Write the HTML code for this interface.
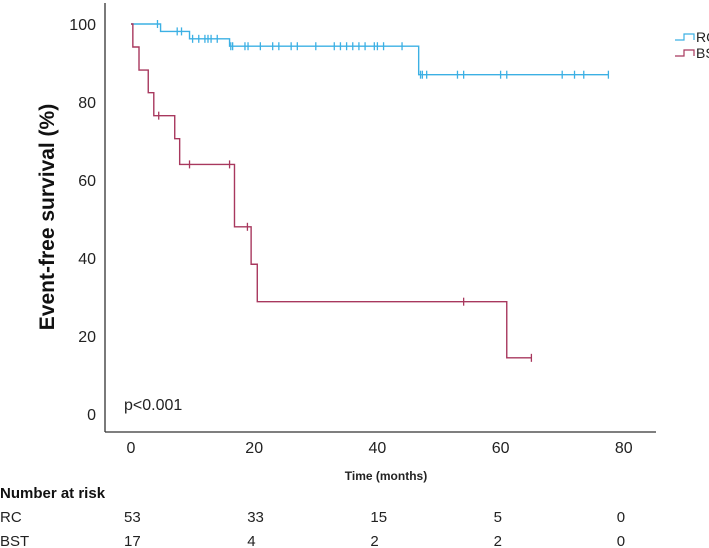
<!DOCTYPE html>
<html><head><meta charset="utf-8"><style>
body{margin:0;background:#fff;}
svg{display:block;font-family:"Liberation Sans",Arial,sans-serif;}
</style></head><body>
<svg id="c" width="709" height="548">
<g id="axes"></g><g id="marks"></g>
</svg>
<script>
const xTicks=[0,20,40,60,80];
const yTicks=[0,20,40,60,80,100];
const rcTimes=[0,4.8,9.5,16.0,46.7,77.5];
const rcSurv=[100,98.1,96.2,94.3,87.0,87.0];
const rcCensor=[4.3,7.5,8.2,10,11,12,12.5,13,14,16.2,16.5,18.5,19,21,23,24,26,27,30,33,34,35,36,37,38,39.5,40,41,44,47,47.3,48,53,54,60,61,70,72,73.5,77.5];
const bstTimes=[0,0.3,1.3,2.8,3.7,7.1,7.9,16.8,19.5,20.5,61,65];
const bstSurv=[100,94.1,88.2,82.4,76.5,70.6,64.0,48.0,38.4,28.8,14.4,14.4];
const bstCensor=[4.5,9.5,16,18.9,54,65];
const riskGroups=["RC","BST"];
const riskRC=[53,33,15,5,0];
const riskBST=[17,4,2,2,0];
const NS="http://www.w3.org/2000/svg";
const X=t=>131+t*6.16, Y=v=>24+(100-v)*3.9;
function mk(tag,at,parent,txt){const e=document.createElementNS(NS,tag);for(const k in at)e.setAttribute(k,at[k]);if(txt!==undefined)e.textContent=txt;parent.appendChild(e);return e;}
const ax=document.getElementById('axes'),mg=document.getElementById('marks');
let e;
e=mk('line',{x1:105,y1:3,x2:105,y2:432,stroke:'#333','stroke-width':1.3},ax);

e=mk('line',{x1:105,y1:432,x2:656,y2:432,stroke:'#333','stroke-width':1.3},ax);

yTicks.forEach(v=>{e=mk('text',{x:96,y:Y(v)+6,'text-anchor':'end','font-size':16,fill:'#222'},ax,v);
});
xTicks.forEach(v=>{e=mk('text',{x:X(v),y:453,'text-anchor':'middle','font-size':16,fill:'#222'},ax,v);
});
e=mk('text',{x:0,y:0,transform:'translate(54,217) rotate(-90)','text-anchor':'middle','font-size':21,'font-weight':'bold',fill:'#111'},ax,'Event-free survival (%)');

e=mk('text',{x:386,y:480,'text-anchor':'middle','font-size':12,'font-weight':'bold',fill:'#222'},ax,'Time (months)');

e=mk('text',{x:124,y:410,'font-size':16,fill:'#222'},ax,'p<0.001');

e=mk('text',{x:0,y:498,'font-size':15,'font-weight':'bold',fill:'#111'},ax,'Number at risk');

[riskRC,riskBST].forEach((row,i)=>{const yy=522+i*24;
e=mk('text',{x:0,y:yy,'font-size':15,fill:'#222'},ax,riskGroups[i]);

row.forEach((n,j)=>{e=mk('text',{x:X(xTicks[j])-7,y:yy,'font-size':15,fill:'#222'},ax,n);
});});
function curve(times,surv,cens,col,name){
 let d='M'+X(times[0])+','+Y(surv[0]);
 for(let i=1;i<times.length;i++){d+=' H'+X(times[i])+' V'+Y(surv[i]);}
 e=mk('path',{d:d,fill:'none',stroke:col,'stroke-width':1.4},mg);
 
 cens.forEach(t=>{let k=0;for(let i=0;i<times.length;i++)if(times[i]<=t)k=i;
  const cx=X(t),cy=Y(surv[k]);
  e=mk('path',{d:`M${cx},${cy-4}V${cy+4}`,stroke:col,'stroke-width':1.3},mg);
  });
}
curve(rcTimes,rcSurv,rcCensor,'#3cb0e4','rc');
curve(bstTimes,bstSurv,bstCensor,'#a8385e','bst');
[['RC','#3cb0e4',40],['BST','#a8385e',56]].forEach(([t,c,yy])=>{
 e=mk('path',{d:`M675,${yy}H684V${yy-6}H694V${yy}`,fill:'none',stroke:c,'stroke-width':1.2},ax);
 
 e=mk('text',{x:696,y:yy+2,'font-size':14,fill:'#222'},ax,t);
 });
</script>
</body></html>
